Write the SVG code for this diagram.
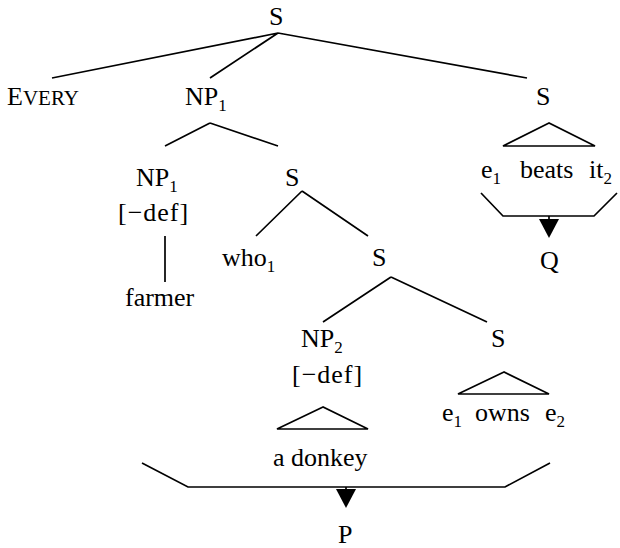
<svg xmlns="http://www.w3.org/2000/svg" width="620" height="548" viewBox="0 0 620 548">
<defs>
<style>
text{font-family:"Liberation Serif","Times New Roman",serif;font-size:26px;fill:#000}
.sub{font-size:17px}
.sc{font-size:21px}
.ln{stroke:#000;stroke-width:1.7;fill:none}
.ah{fill:#000;stroke:none}
</style>
</defs>
<rect width="620" height="548" fill="#fff"/>
<g id="connectors">
<path class="ln" d="M278,33 L52,78 M278,33 L210,78 M278,33 L527,78"/>
<path class="ln" d="M210,123 L165,146 M210,123 L278,146"/>
<path class="ln" d="M165,236 L165,282"/>
<path class="ln" d="M302,191 L256,236 M302,191 L368,236"/>
<path class="ln" d="M391,277 L323,322 M391,277 L487,322"/>
<path class="ln" d="M549,123 L503,146 L595,146 Z"/>
<path class="ln" d="M504,372 L458,394 L549,394 Z"/>
<path class="ln" d="M323,407 L277,429 L368,429 Z"/>
<path class="ln" d="M481,193 L503,216 L594,216 L617,193"/>
<path class="ln" d="M549,216 L549,222"/>
<polygon class="ah" points="539,219 559,219 549,238"/>
<path class="ln" d="M142,463 L188,487 L505,487 L550,463"/>
<path class="ln" d="M346,487 L346,492"/>
<polygon class="ah" points="336,489 356,489 346,508"/>
</g>
<g id="n-s-root"><text x="269" y="25">S</text></g>
<g id="n-every"><text x="7" y="105">E<tspan class="sc">VERY</tspan></text></g>
<g id="n-np1"><text x="185" y="105">NP<tspan class="sub" dy="6">1</tspan></text></g>
<g id="n-s-right"><text x="536" y="105">S</text></g>
<g id="n-np1b"><text x="136" y="186">NP<tspan class="sub" dy="6">1</tspan></text></g>
<g id="n-def1"><text x="118" y="221" letter-spacing="1">[−def]</text></g>
<g id="n-farmer"><text x="125" y="306">farmer</text></g>
<g id="n-s2"><text x="285" y="186">S</text></g>
<g id="n-who"><text x="222" y="266">who<tspan class="sub" dy="6">1</tspan></text></g>
<g id="n-s3"><text x="372" y="266">S</text></g>
<g id="n-np2"><text x="301" y="347">NP<tspan class="sub" dy="6">2</tspan></text></g>
<g id="n-def2"><text x="292" y="383" letter-spacing="1">[−def]</text></g>
<g id="n-donkey"><text x="273" y="466">a donkey</text></g>
<g id="n-s4"><text x="491" y="347">S</text></g>
<g id="n-owns"><text x="442" y="421">e<tspan class="sub" dy="6">1</tspan></text><text x="475" y="421">owns</text><text x="545" y="421">e<tspan class="sub" dy="6">2</tspan></text></g>
<g id="n-beats"><text x="481" y="178">e<tspan class="sub" dy="6">1</tspan></text><text x="520" y="178">beats</text><text x="589" y="178">it<tspan class="sub" dy="6">2</tspan></text></g>
<g id="n-q"><text x="540" y="269">Q</text></g>
<g id="n-p"><text x="338" y="543">P</text></g>
</svg>
